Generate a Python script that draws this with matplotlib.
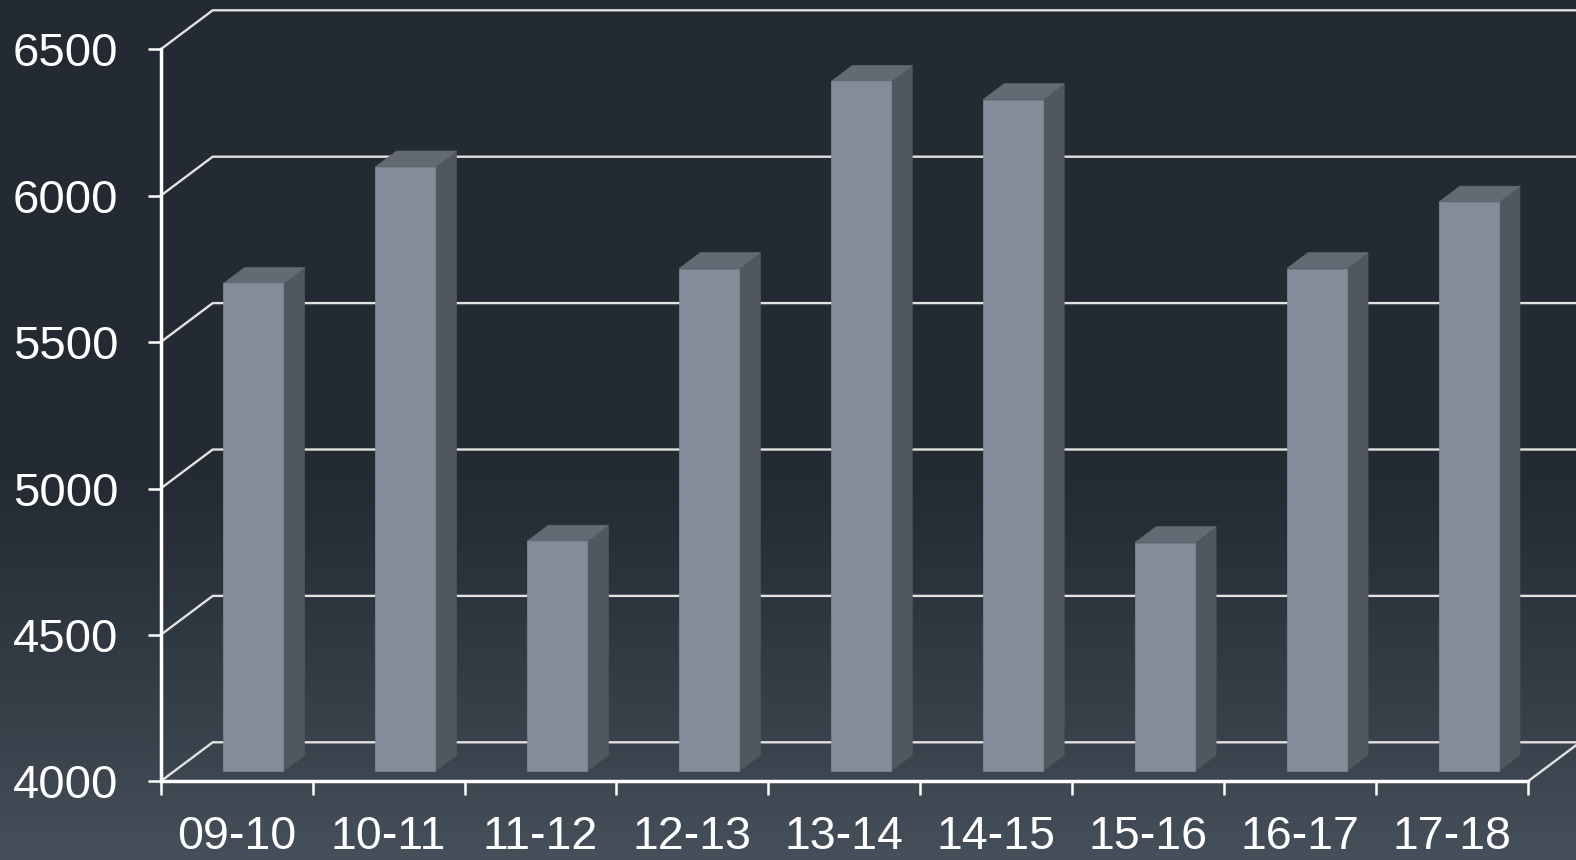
import matplotlib
matplotlib.use('Agg')
import matplotlib.pyplot as plt
from matplotlib.patches import Polygon
import numpy as np

plt.rcParams['font.family'] = ['Liberation Sans', 'DejaVu Sans']

# ── data ────────────────────────────────────────────
SEASONS = ["09-10", "10-11", "11-12", "12-13", "13-14",
           "14-15", "15-16", "16-17", "17-18"]
VALUES = [5665, 6063, 4785, 5716, 6355, 6293, 4780, 5716, 5943]
Y_TICKS = [4000, 4500, 5000, 5500, 6000, 6500]

# ── pseudo-3D geometry (in data units) ──────────────
DX, DV = 0.3423, 133.2          # full depth offset of the back wall
F0, F1 = 0.265, 0.672           # bar front / back depth fraction
BAR_OFF, BAR_W = 0.322, 0.395
YMIN, YMAX = 4000, 6500

FRONT = '#848c99'
SIDE = '#51575f'
TOP = '#646a73'
GRID = '#e2e2e2'


def P(x, v, f):
    return (x + f * DX, v + f * DV)


fig = plt.figure(figsize=(15.76, 8.6), dpi=100)

# background gradient
bg = fig.add_axes([0, 0, 1, 1], zorder=-5)
H = 860
yy = np.arange(H)
t = np.clip((yy - 460) / 400.0, 0, 1) ** 1.2
c0 = np.array([0x23, 0x2a, 0x32]) / 255
c1 = np.array([0x46, 0x50, 0x5a]) / 255
grad = c0[None, :] * (1 - t[:, None]) + c1[None, :] * t[:, None]
bg.imshow(np.repeat(grad[:, None, :], 4, axis=1), aspect='auto',
          extent=[0, 1, 0, 1], origin='upper')
bg.set_axis_off()

ax = fig.add_axes([160.7 / 1576, (860 - 781.3) / 860,
                   (1528 - 160.7) / 1576, (781.3 - 49.3) / 860])
ax.patch.set_alpha(0)
ax.set_xlim(0, len(SEASONS))
ax.set_ylim(YMIN, YMAX)

# back wall gridlines + left-wall diagonals
n = len(SEASONS)
for v in Y_TICKS:
    xs, ys = zip(P(0, v, 0), P(0, v, 1), P(n, v, 1))
    ax.plot(xs, ys, color=GRID, lw=1.7, clip_on=False, zorder=1,
            solid_joinstyle='miter')
xs, ys = zip(P(n, YMIN, 0), P(n, YMIN, 1))
ax.plot(xs, ys, color=GRID, lw=1.7, clip_on=False, zorder=1)

# bars
for i, v in enumerate(VALUES):
    L = i + BAR_OFF
    R = L + BAR_W
    side = [P(R, YMIN, F0), P(R, YMIN, F1), P(R, v, F1), P(R, v, F0)]
    top = [P(L, v, F0), P(R, v, F0), P(R, v, F1), P(L, v, F1)]
    front = [P(L, YMIN, F0), P(R, YMIN, F0), P(R, v, F0), P(L, v, F0)]
    for pts, c in ((side, SIDE), (top, TOP), (front, FRONT)):
        ax.add_patch(Polygon(pts, closed=True, facecolor=c, edgecolor=c,
                             lw=0.5, clip_on=False, zorder=3))

# front axes
for s in ('top', 'right'):
    ax.spines[s].set_visible(False)
for s in ('left', 'bottom'):
    ax.spines[s].set_color('white')
    ax.spines[s].set_linewidth(2.5)
    ax.spines[s].set_zorder(4)

ax.set_yticks(Y_TICKS)
ax.set_yticklabels([str(v) for v in Y_TICKS])
ax.set_xticks(np.arange(n + 1))
ax.set_xticklabels([])
ax.set_xticks(np.arange(n) + 0.5, minor=True)
ax.set_xticklabels(SEASONS, minor=True)
ax.tick_params(axis='y', direction='out', length=9.5, width=1.8,
               color='white', labelcolor='white', labelsize=34, pad=21)
ax.tick_params(axis='x', which='major', direction='out', length=10,
               width=1.8, color='white')
ax.tick_params(axis='x', which='minor', length=0, labelcolor='white',
               labelsize=33.5, pad=24.5)

fig.savefig('out.png', dpi=100)
